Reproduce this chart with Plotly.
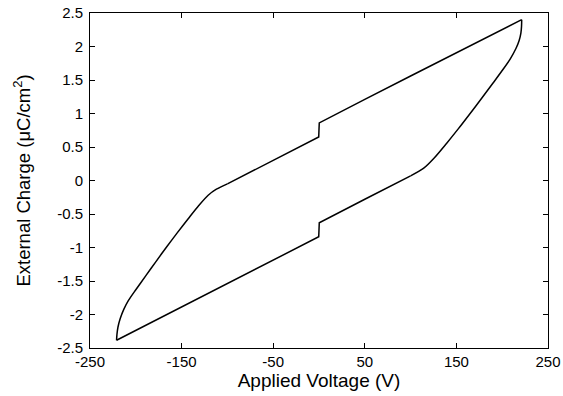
import plotly.graph_objects as go

# Upper branch, straight part (voltage sweeping down from +221 V), with the jump at 0 V
upper_line_v = [221.3, 150, 100, 50, 0.3, 0.0, -0.3, -50, -75, -100]
upper_line_q = [2.40, 1.91, 1.56, 1.21, 0.86, 0.76, 0.65, 0.30, 0.125, -0.05]
# Upper branch, switching part (negative voltages)
upper_curve_v = [-100, -112, -121, -131, -143, -155, -166, -178, -189, -200, -208, -213, -217,
                 -219.5, -220.6, -221]
upper_curve_q = [-0.05, -0.13, -0.22, -0.37, -0.575, -0.785, -0.985, -1.21, -1.42, -1.63, -1.79,
                 -1.92, -2.06, -2.19, -2.30, -2.385]

# Lower branch, straight part (voltage sweeping up from -221 V), with the jump at 0 V
lower_line_v = [-221, -150, -100, -50, -0.3, 0.0, 0.3, 50, 77.5, 100]
lower_line_q = [-2.385, -1.89, -1.54, -1.19, -0.84, -0.74, -0.63, -0.28, -0.09, 0.07]
# Lower branch, switching part (positive voltages)
lower_curve_v = [100, 114, 125, 139, 152, 165, 178, 190, 201, 209, 215, 218.5, 220.4, 221.1, 221.3]
lower_curve_q = [0.07, 0.18, 0.325, 0.55, 0.77, 1.00, 1.235, 1.455, 1.66, 1.82, 1.97, 2.09, 2.20,
                 2.30, 2.40]

x_ticks = [-250, -150, -50, 50, 150, 250]
x_tick_text = ["-250", "-150", "-50", "50", "150", "250"]
y_ticks = [-2.5, -2, -1.5, -1, -0.5, 0, 0.5, 1, 1.5, 2, 2.5]
y_tick_text = ["-2.5", "-2", "-1.5", "-1", "-0.5", "0", "0.5", "1", "1.5", "2", "2.5"]

FONT = "Liberation Sans, Arial, sans-serif"

fig = go.Figure()
line_style = dict(color="black", width=1.5)
fig.add_trace(go.Scatter(x=upper_line_v, y=upper_line_q, mode="lines", line=line_style,
                         showlegend=False))
fig.add_trace(go.Scatter(x=upper_curve_v, y=upper_curve_q, mode="lines",
                         line=dict(line_style, shape="spline", smoothing=0.8), showlegend=False))
fig.add_trace(go.Scatter(x=lower_line_v, y=lower_line_q, mode="lines", line=line_style,
                         showlegend=False))
fig.add_trace(go.Scatter(x=lower_curve_v, y=lower_curve_q, mode="lines",
                         line=dict(line_style, shape="spline", smoothing=0.8), showlegend=False))

axis_common = dict(showgrid=False, zeroline=False, showline=True, linecolor="black", linewidth=1,
                   mirror="ticks", ticks="inside", ticklen=5, tickcolor="black", tickwidth=1,
                   automargin=False,
                   tickfont=dict(family=FONT, size=15, color="black"))

fig.update_layout(
    width=563, height=396,
    margin=dict(l=90, r=15, t=13, b=48),
    paper_bgcolor="white", plot_bgcolor="white",
    font=dict(family=FONT, color="black"),
    xaxis=dict(range=[-250, 250], tickvals=x_ticks, ticktext=x_tick_text,
               ticklabelstandoff=0,
               title=dict(text="Applied Voltage (V)", font=dict(size=19), standoff=0),
               **axis_common),
    yaxis=dict(range=[-2.5, 2.5], tickvals=y_ticks, ticktext=y_tick_text,
               ticklabelstandoff=3,
               title=dict(text="External Charge (μC/cm<sup>2</sup>)", font=dict(size=18.5),
                          standoff=21),
               **axis_common),
)

fig.write_html("out.html")
